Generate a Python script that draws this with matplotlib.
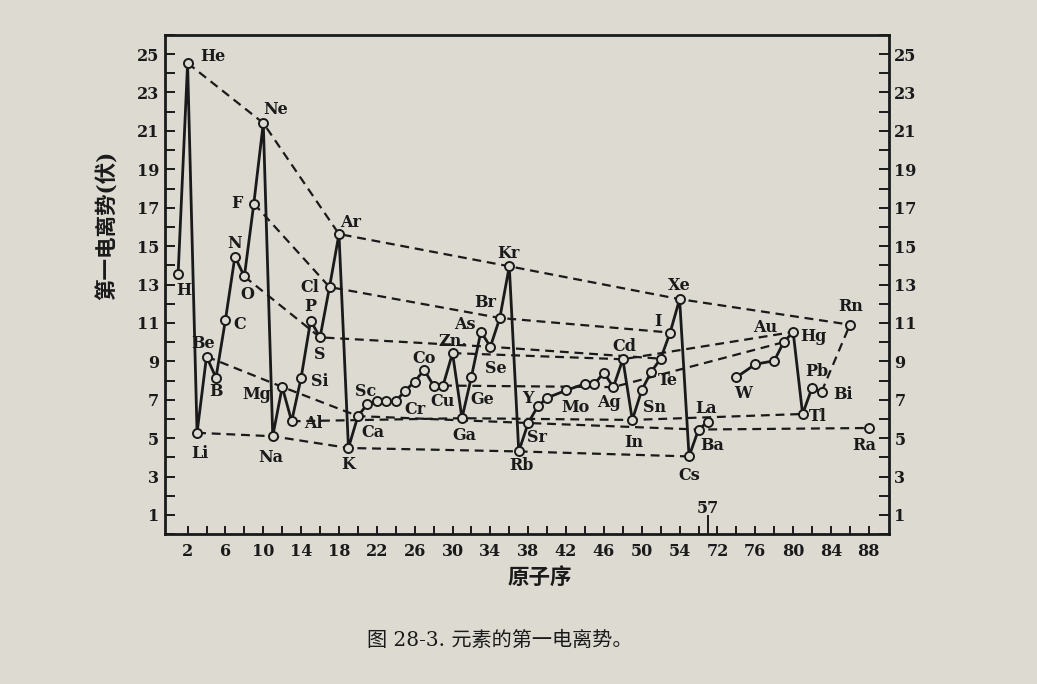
import numpy as np
import matplotlib.pyplot as plt
import matplotlib.transforms as mtransforms

plt.rcParams['font.family'] = ['DejaVu Serif', 'Noto Sans CJK SC']

# 原子序、元素符号、第一电离势(伏)
z = [1, 2, 3, 4, 5, 6, 7, 8, 9, 10,
     11, 12, 13, 14, 15, 16, 17, 18, 19, 20,
     21, 22, 23, 24, 25, 26, 27, 28, 29, 30,
     31, 32, 33, 34, 35, 36, 37, 38, 39, 40,
     42, 44, 45, 46, 47, 48, 49, 50, 51, 52,
     53, 54, 55, 56, 57,
     74, 76, 78, 79, 80, 81, 82, 83, 86, 88]
symbols = ['H', 'He', 'Li', 'Be', 'B', 'C', 'N', 'O', 'F', 'Ne',
           'Na', 'Mg', 'Al', 'Si', 'P', 'S', 'Cl', 'Ar', 'K', 'Ca',
           'Sc', 'Ti', 'V', 'Cr', 'Mn', 'Fe', 'Co', 'Ni', 'Cu', 'Zn',
           'Ga', 'Ge', 'As', 'Se', 'Br', 'Kr', 'Rb', 'Sr', 'Y', 'Zr',
           'Mo', 'Ru', 'Rh', 'Pd', 'Ag', 'Cd', 'In', 'Sn', 'Sb', 'Te',
           'I', 'Xe', 'Cs', 'Ba', 'La',
           'W', 'Os', 'Pt', 'Au', 'Hg', 'Tl', 'Pb', 'Bi', 'Rn', 'Ra']
ie = [13.56, 24.53, 5.28, 9.25, 8.15, 11.16, 14.45, 13.42, 17.22, 21.41,
      5.10, 7.67, 5.88, 8.15, 11.12, 10.25, 12.87, 15.63, 4.49, 6.15,
      6.77, 6.92, 6.92, 6.93, 7.47, 7.95, 8.55, 7.74, 7.74, 9.43,
      6.04, 8.20, 10.55, 9.76, 11.26, 13.95, 4.31, 5.79, 6.65, 7.10,
      7.49, 7.83, 7.84, 8.40, 7.66, 9.11, 5.95, 7.50, 8.46, 9.14,
      10.50, 12.24, 4.05, 5.45, 5.86,
      8.17, 8.85, 9.03, 10.00, 10.53, 6.26, 7.62, 7.41, 10.91, 5.53]

# 实线连接的原子序范围
solid_runs = [(1, 57), (74, 83)]
# 虚线: 同族元素以及 Bi-Rn
dashed_groups = [
    [2, 10, 18, 36, 54, 86],
    [3, 11, 19, 37, 55],
    [4, 12, 20, 38, 56, 88],
    [9, 17, 35, 53],
    [8, 16, 34, 52],
    [13, 31, 49, 81],
    [30, 48, 80],
    [29, 47, 79],
    [83, 86],
]

# 元素符号标注的偏移 (像素)
label_offsets = {
    'H': (6, -17), 'He': (25, 7), 'Li': (3, -21), 'Be': (-3, 13),
    'B': (0, -14), 'C': (14, -5), 'N': (0, 13), 'O': (3, -18),
    'F': (-17, 0), 'Ne': (12, 14), 'Na': (-2, -21), 'Mg': (-25, -8),
    'Al': (22, -2), 'Si': (19, -4), 'P': (0, 14), 'S': (0, -17),
    'Cl': (-20, 0), 'Ar': (12, 12), 'K': (0, -17), 'Ca': (15, -16),
    'Sc': (-2, 13), 'Cr': (19, -8), 'Co': (0, 12), 'Cu': (0, -16),
    'Zn': (0, 12), 'Ga': (2, -17), 'Ge': (11, -23), 'As': (-16, 7),
    'Se': (5, -22), 'Br': (-15, 15), 'Kr': (-1, 13), 'Rb': (3, -14),
    'Sr': (9, -14), 'Y': (-10, 8), 'Mo': (9, -17), 'Ag': (-4, -15),
    'Cd': (2, 13), 'In': (2, -23), 'Sn': (13, -17), 'Te': (7, -22),
    'I': (-12, 11), 'Xe': (0, 14), 'Cs': (0, -19), 'Ba': (14, -16),
    'La': (-2, 13), 'W': (7, -16), 'Au': (-18, 15), 'Hg': (20, -5),
    'Pb': (5, 16), 'Bi': (21, -3), 'Tl': (15, -3), 'Rn': (1, 18),
    'Ra': (-5, -17),
}
label_text = {'Zn': 'Zn.'}

bg = '#dddad2'
ink = '#1a1a1a'


# 横轴省略镧系 (58-71)
def fwd(x):
    x = np.asarray(x, dtype=float)
    return np.where(x <= 57, x, np.where(x < 72, 57 + (x - 57) / 15, x - 14))


def inv(u):
    u = np.asarray(u, dtype=float)
    return np.where(u <= 57, u, np.where(u < 58, 57 + (u - 57) * 15, u + 14))


df_z = np.array(z)
df_ie = np.array(ie)
val = dict(zip(z, ie))

fig = plt.figure(figsize=(10.37, 6.84), dpi=100, facecolor=bg)
ax = fig.add_axes([0.159, 0.219, 0.698, 0.730], facecolor=bg)
ax.set_xscale('function', functions=(fwd, inv))
ax.set_xlim(-0.4, 90.1)
ax.set_ylim(0, 26)

for lo, hi in solid_runs:
    m = (df_z >= lo) & (df_z <= hi)
    ax.plot(df_z[m], df_ie[m], color=ink, lw=2.0, zorder=3)

for g in dashed_groups:
    ax.plot(g, [val[k] for k in g], color=ink, lw=1.6, ls=(0, (4, 2.6)), zorder=2)

ax.plot(df_z, df_ie, 'o', ms=6.5, mfc=bg, mec=ink, mew=1.4, zorder=4)

for zi, s, v in zip(z, symbols, ie):
    if s in label_offsets:
        ax.annotate(label_text.get(s, s), (zi, v), xytext=label_offsets[s],
                    textcoords='offset pixels', ha='center', va='center',
                    fontsize=11.5, fontweight='bold', color=ink, zorder=5)

# 刻度
xmaj = list(range(2, 55, 4)) + [57] + list(range(72, 89, 4))
xmin = list(range(2, 57, 2)) + list(range(72, 89, 2))
ax.set_xticks(xmaj)
ax.set_xticklabels(['' if t == 57 else str(t) for t in xmaj])
ax.set_xticks(xmin, minor=True)
ax.tick_params(axis='x', which='both', direction='in', length=6, width=1.4,
               pad=6, labelsize=11.5, colors=ink)
ax.xaxis.get_major_ticks()[xmaj.index(57)].tick1line.set_markersize(14)
trans = mtransforms.blended_transform_factory(ax.transData, ax.transAxes)
ax.text(57, 0.052, '57', transform=trans, ha='center', va='center',
        fontsize=11.5, fontweight='bold', color=ink)

ax.set_yticks(range(1, 26, 2))
ax.set_yticks(range(0, 27), minor=True)
ax.tick_params(axis='y', which='both', direction='in', length=7, width=1.4,
               left=True, right=True, labelleft=True, labelright=True,
               pad=4, labelsize=11.5, colors=ink)
for lab in ax.get_xticklabels() + ax.get_yticklabels():
    lab.set_fontweight('bold')
for lab in ax.yaxis.get_ticklabels(which='major'):
    lab.set_fontweight('bold')
for t in ax.yaxis.get_major_ticks():
    t.label2.set_fontweight('bold')

for sp in ax.spines.values():
    sp.set_linewidth(2.0)
    sp.set_color(ink)

fig.text(0.104, 0.671, '第一电离势(伏)', rotation=90, ha='center', va='center',
         fontsize=15.5, fontweight='bold', color=ink)
fig.text(0.521, 0.155, '原子序', ha='center', va='center', fontsize=15.5,
         fontweight='bold', color=ink)
fig.text(0.482, 0.064, '图 28-3. 元素的第一电离势。', ha='center', va='center',
         fontsize=14.5, color=ink)

fig.savefig('out.png', dpi=100, facecolor=bg)
